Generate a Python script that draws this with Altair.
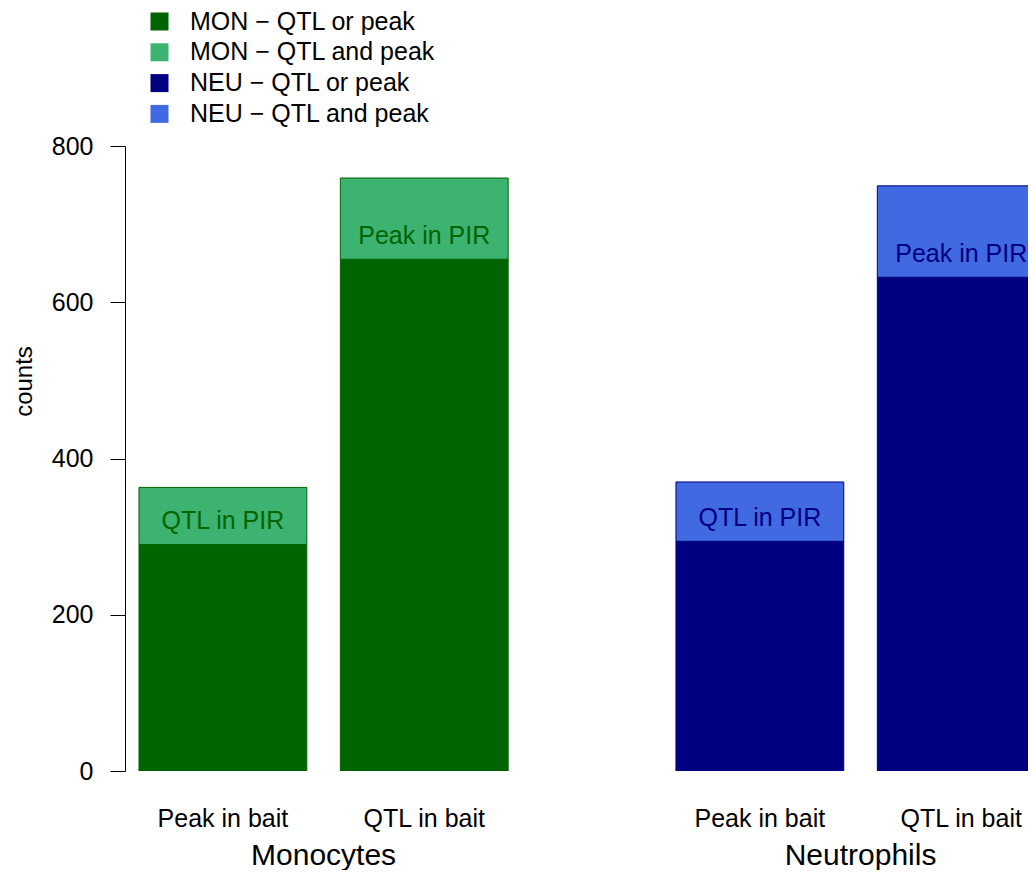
import altair as alt
import pandas as pd

# ---- data ----
cells = ["Monocytes", "Neutrophils"]
cell_abbr = ["MON", "NEU"]
bar_types = ["Peak in bait", "QTL in bait"]
pir_labels = ["QTL in PIR", "Peak in PIR"]
segments = ["QTL or peak", "QTL and peak"]

mon_or = [290, 655]     # lower segment (QTL or peak)
mon_and = [73, 104]     # upper segment (QTL and peak)
neu_or = [294, 632]
neu_and = [76, 117]

y_ticks = [0, 200, 400, 600, 800]

# ---- styling ----
dark = ["#006400", "#000080"]
light = ["#3CB371", "#4169E1"]
FONT = "Liberation Sans"

# R barplot-like layout: bar width 1, spaces before each bar
space = [0.2, 0.2, 1.0, 0.2]
lefts = []
pos = 0.0
for s in space:
    pos += s
    lefts.append(pos)
    pos += 1.0

or_vals = [mon_or, neu_or]
and_vals = [mon_and, neu_and]

rows, lab_rows, grp_rows = [], [], []
for ci, cell in enumerate(cells):
    centers = []
    for bi, bt in enumerate(bar_types):
        k = ci * 2 + bi
        left = lefts[k]
        base = or_vals[ci][bi]
        total = base + and_vals[ci][bi]
        rows.append(dict(cell=cell, type=bt, series=f"{cell_abbr[ci]} \u2212 {segments[0]}",
                         x0=left, x1=left + 1, y0=0, y1=base))
        rows.append(dict(cell=cell, type=bt, series=f"{cell_abbr[ci]} \u2212 {segments[1]}",
                         x0=left, x1=left + 1, y0=base, y1=total))
        lab_rows.append(dict(cell=cell, type=bt, label=pir_labels[bi], xc=left + 0.5, y=base))
        centers.append(left + 0.5)
    grp_rows.append(dict(cell=cell, xc=sum(centers) / 2))

df = pd.DataFrame(rows)
df_lab = pd.DataFrame(lab_rows)
df_grp = pd.DataFrame(grp_rows)

series_domain = [f"{a} \u2212 {s}" for a in cell_abbr for s in segments]
series_range = [dark[0], light[0], dark[1], light[1]]

xscale = alt.Scale(domain=[0.1166, 5.498], nice=False, zero=False)
yscale = alt.Scale(domain=[0, 800], nice=False)

bars = alt.Chart(df).mark_bar(clip=True, strokeWidth=1).encode(
    x=alt.X("x0:Q", scale=xscale, axis=None),
    x2="x1",
    y=alt.Y("y0:Q", scale=yscale, title="counts",
            axis=alt.Axis(values=y_ticks, tickSize=15, labelPadding=17, labelFontSize=25,
                          labelFont=FONT, labelColor="black", grid=False,
                          domainColor="black", tickColor="black", domainWidth=1, tickWidth=1,
                          titleFont=FONT, titleFontSize=24, titleFontWeight="normal",
                          titleColor="black", titleAngle=270, titleX=-94, titleY=235,
                          titleAlign="center", titleBaseline="alphabetic")),
    y2="y1",
    color=alt.Color("series:N", scale=alt.Scale(domain=series_domain, range=series_range),
                    legend=alt.Legend(title=None, orient="none", legendX=22, legendY=-137,
                                      symbolType="square", symbolSize=324, symbolStrokeWidth=0,
                                      labelFontSize=25, labelFont=FONT, labelColor="black",
                                      rowPadding=4.8, padding=0, labelOffset=18,
                                      labelLimit=400)),
    stroke=alt.Stroke("cell:N", scale=alt.Scale(domain=cells, range=dark), legend=None),
)

inbar = alt.Chart(df_lab).mark_text(fontSize=25, font=FONT, dy=-23, baseline="middle").encode(
    x=alt.X("xc:Q", scale=xscale),
    y=alt.Y("y:Q", scale=yscale),
    text="label:N",
    fill=alt.Fill("cell:N", scale=alt.Scale(domain=cells, range=dark), legend=None),
)

cat_labels = alt.Chart(df_lab).mark_text(fontSize=25, font=FONT, baseline="alphabetic",
                                         color="black").encode(
    x=alt.X("xc:Q", scale=xscale),
    y=alt.value(681),
    text="type:N",
)

grp_labels = alt.Chart(df_grp).mark_text(fontSize=30, font=FONT, baseline="alphabetic",
                                         color="black").encode(
    x=alt.X("xc:Q", scale=xscale),
    y=alt.value(719),
    text="cell:N",
)

chart = alt.layer(bars, inbar, cat_labels, grp_labels).properties(
    width=903, height=625,
    autosize=alt.AutoSizeParams(type="none"),
    padding={"left": 117, "top": 138, "right": 0, "bottom": 99},
    background="white",
).configure_view(stroke=None)

chart.save("out.html", embed_options={"renderer": "svg", "actions": False})
